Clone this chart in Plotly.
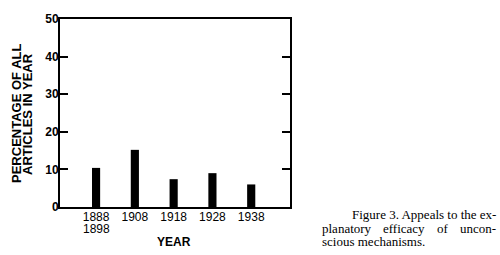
import plotly.graph_objects as go

# Data
years = ["1888<br>1898", "1908", "1918", "1928", "1938"]
percent = [10.4, 15.2, 7.4, 9.0, 6.0]
ytick_vals = [0, 10, 20, 30, 40, 50]

W, H = 500, 255
L, R, T, B = 60, 210, 15, 48
PW, PH = W - L - R, H - T - B


def px(x):
    return (x - L) / PW


def py(y):
    return (H - B - y) / PH


SANS = "Liberation Sans, Arial, Helvetica, sans-serif"
SERIF = "Liberation Serif, Times New Roman, serif"

xpos = list(range(len(years)))
first_lines = [y.split("<br>")[0] for y in years]

fig = go.Figure()
fig.add_trace(go.Bar(
    x=xpos, y=percent, width=0.21,
    marker=dict(color="black", line=dict(width=0)),
    hoverinfo="skip",
))

fig.update_layout(
    width=W, height=H,
    margin=dict(l=L, r=R, t=T, b=B),
    paper_bgcolor="white", plot_bgcolor="white",
    showlegend=False,
    font=dict(family=SANS, color="black", size=12),
    xaxis=dict(
        range=[-0.93, 5.0], tickvals=xpos, ticktext=first_lines,
        showline=True, linewidth=2, linecolor="black", mirror=True,
        ticks="", showgrid=False, zeroline=False, ticklabelstandoff=-2,
        tickfont=dict(family=SANS, size=12, color="black"),
    ),
    yaxis=dict(
        range=[0, 50], tickvals=ytick_vals,
        showline=True, linewidth=2, linecolor="black", mirror="ticks",
        ticks="inside", ticklen=8, tickwidth=2, tickcolor="black",
        showgrid=False, zeroline=False, ticklabelstandoff=-3,
        tickfont=dict(family=SANS, size=12, color="black", weight="bold"),
    ),
)

ann = []
# second lines of multi-line category labels
for i, y in enumerate(years):
    parts = y.split("<br>")
    for k, p in enumerate(parts[1:], start=1):
        ann.append(dict(text=p, x=i, xref="x", y=py(215 + 14 * k), yref="paper",
                        font=dict(family=SANS, size=12)))
# Y axis title (two lines)
ann.append(dict(text="PERCENTAGE OF ALL", x=px(17), y=py(112), textangle=-90,
                font=dict(family=SANS, size=13, weight="bold")))
ann.append(dict(text="ARTICLES IN YEAR", x=px(28), y=py(112), textangle=-90,
                font=dict(family=SANS, size=13, weight="bold")))
# X axis title
ann.append(dict(text="YEAR", x=px(173.5), y=py(243),
                font=dict(family=SANS, size=12, weight="bold")))
# Caption (justified second line)
cap = dict(family=SERIF, size=13, color="black")
ann.append(dict(text="Figure 3. Appeals to the ex-", x=px(497), y=py(215),
                xanchor="right", font=cap))
ann.append(dict(text="planatory", x=px(321), y=py(228.5), xanchor="left", font=cap))
ann.append(dict(text="efficacy", x=px(404), y=py(228.5), xanchor="center", font=cap))
ann.append(dict(text="of", x=px(443), y=py(228.5), xanchor="center", font=cap))
ann.append(dict(text="uncon-", x=px(497), y=py(228.5), xanchor="right", font=cap))
ann.append(dict(text="scious mechanisms.", x=px(321), y=py(242), xanchor="left", font=cap))

for a in ann:
    a.setdefault("xref", "paper")
    a.setdefault("yref", "paper")
    a["showarrow"] = False
    a.setdefault("xanchor", "center")
    a["yanchor"] = "middle"
    a["borderpad"] = 0
fig.update_layout(annotations=ann)

fig.write_html("out.html")
